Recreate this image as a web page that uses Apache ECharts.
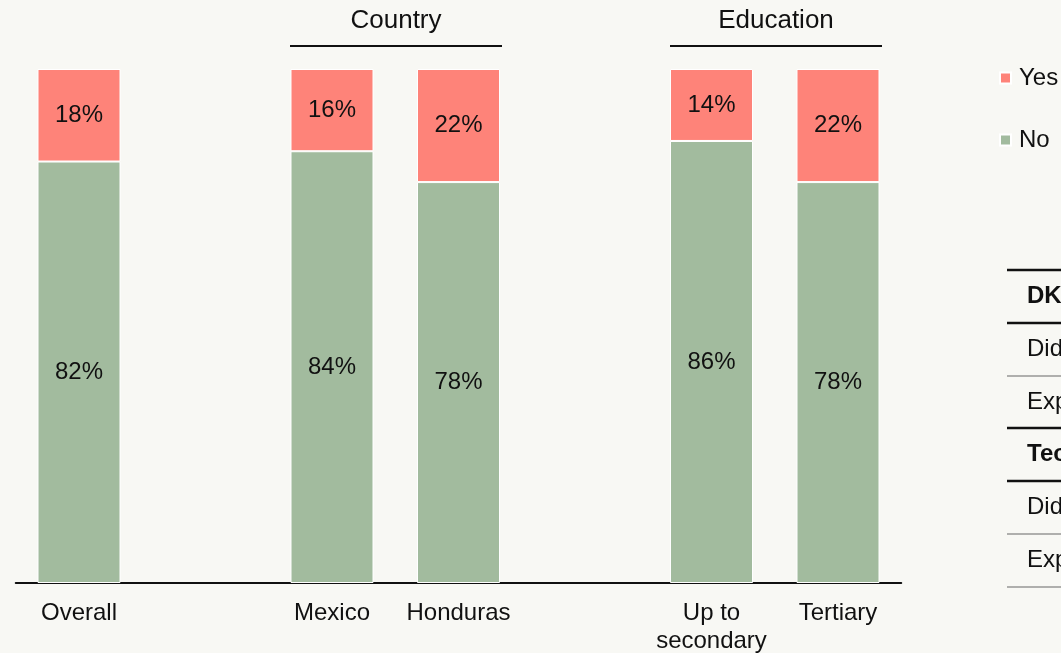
<!DOCTYPE html>
<html>
<head>
<meta charset="utf-8">
<script src="https://cdn.jsdelivr.net/npm/echarts@6/dist/echarts.min.js"></script>
<style>
html,body{margin:0;padding:0;background:#F8F8F4;}
#chart{width:1061px;height:653px;}
</style>
</head>
<body>
<div id="chart"></div>
<script>
var categories = ['Overall', '', 'Mexico', 'Honduras', '', 'Up to\nsecondary', 'Tertiary'];
var noValues = [82, '-', 84, 78, '-', 86, 78];
var yesValues = [18, '-', 16, 22, '-', 14, 22];
var groupHeaders = ['Country', 'Education'];
var tableRows = [
  {text: 'DK / Refused', bold: true},
  {text: 'Did not', bold: false},
  {text: 'Expected', bold: false},
  {text: 'Technical', bold: true},
  {text: 'Did not', bold: false},
  {text: 'Expected', bold: false}
];

var FONT = '"Liberation Sans", Arial, sans-serif';
var chart = echarts.init(document.getElementById('chart'));

var graphics = [];
var headerCenters = [396, 776];
var headerLines = [[290, 502], [670, 882]];
groupHeaders.forEach(function (h, i) {
  graphics.push({type: 'text', x: headerCenters[i], y: 21,
    style: {text: h, font: '26px ' + FONT, fill: '#111', textAlign: 'center', textVerticalAlign: 'middle'}});
  graphics.push({type: 'line', shape: {x1: headerLines[i][0], y1: 46, x2: headerLines[i][1], y2: 46},
    style: {stroke: '#111', lineWidth: 2}});
});
var lineYs = [270, 323, 376, 428, 481, 534, 587];
var lineW = [2.5, 2.5, 1, 2.5, 2.5, 1, 1];
lineYs.forEach(function (y, i) {
  graphics.push({type: 'line', shape: {x1: 1007, y1: y, x2: 1061, y2: y},
    style: {stroke: lineW[i] > 1 ? '#111' : '#666', lineWidth: lineW[i]}});
});
tableRows.forEach(function (r, i) {
  graphics.push({type: 'text', x: 1027, y: (lineYs[i] + lineYs[i + 1]) / 2,
    style: {text: r.text, font: (r.bold ? 'bold ' : '') + '24px ' + FONT, fill: '#111', textVerticalAlign: 'middle'}});
});

chart.setOption({
  backgroundColor: '#F8F8F4',
  animation: false,
  grid: {left: 15.75, right: 159.75, top: 69, bottom: 70, containLabel: false, outerBoundsMode: 'none'},
  legend: {
    data: ['Yes', 'No'], orient: 'vertical', left: 994, top: 61,
    icon: 'rect', itemWidth: 11, itemHeight: 11, itemGap: 38,
    textStyle: {fontSize: 24, fontFamily: FONT, color: '#111', padding: [0, 0, 0, 3]}
  },
  xAxis: {
    type: 'category', data: categories,
    axisLine: {lineStyle: {color: '#111', width: 2}},
    axisTick: {show: false},
    axisLabel: {fontSize: 24, fontFamily: FONT, color: '#111', margin: 16, lineHeight: 28, interval: 0}
  },
  yAxis: {type: 'value', min: 0, max: 100, show: false, splitLine: {show: false}},
  series: [
    {name: 'No', type: 'bar', stack: 'a', data: noValues, barWidth: 83,
      itemStyle: {color: '#A2BB9E', borderColor: '#ffffff', borderWidth: 1},
      label: {show: true, position: 'inside', formatter: '{c}%', fontSize: 24, fontFamily: FONT, color: '#111'}},
    {name: 'Yes', type: 'bar', stack: 'a', data: yesValues, barWidth: 83,
      itemStyle: {color: '#FE8379', borderColor: '#ffffff', borderWidth: 1},
      label: {show: true, position: 'inside', formatter: '{c}%', fontSize: 24, fontFamily: FONT, color: '#111'}}
  ],
  graphic: graphics
});
</script>
</body>
</html>
